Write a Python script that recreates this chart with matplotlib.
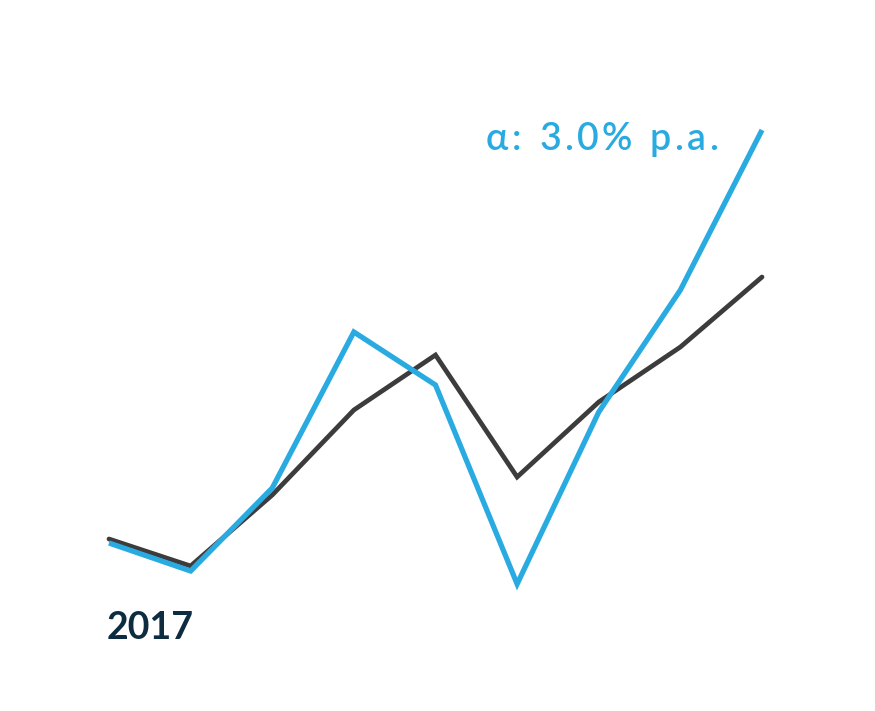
import matplotlib
matplotlib.use('Agg')
import matplotlib.pyplot as plt

# Index values
periods = list(range(9))
fund = [100.0, 97.2, 105.5, 121.1, 115.8, 95.9, 113.1, 125.3, 141.3]
benchmark = [100.4, 97.7, 104.8, 113.3, 118.8, 106.6, 114.1, 119.6, 126.6]

start_label = '2017'
alpha_label = 'α: 3.0% p.a.'

plt.rcParams['font.family'] = ['Lato', 'DejaVu Sans']

fig = plt.figure(figsize=(8.75, 7.11), dpi=100)
ax = fig.add_axes([0, 0, 1, 1])

ax.plot(periods, benchmark, color='#3c3c3c', lw=3.4, solid_joinstyle='miter', solid_capstyle='round')
ax.plot(periods, fund, color='#29abe2', lw=3.8, solid_joinstyle='miter', solid_capstyle='butt')

ax.set_xlim(-1.335, 9.384)
ax.set_ylim(83.2, 154.3)
ax.axis('off')

# alpha label with wide letter spacing, right edge at ~718 px
renderer = fig.canvas.get_renderer()
tracking = 3.3  # extra px between characters
weight = 'semibold'
widths = []
for ch in alpha_label:
    t = fig.text(0, 0, 'n' if ch == ' ' else ch, fontsize=27, fontweight=weight)
    w = t.get_window_extent(renderer).width
    if ch == ' ':
        w = w * 0.55
    widths.append(w)
    t.remove()
total = sum(widths) + tracking * (len(alpha_label) - 1)
x = 718 - total
for ch, w in zip(alpha_label, widths):
    if ch != ' ':
        fig.text(x / 875, 1 - 150 / 711, ch, ha='left', va='baseline',
                 fontsize=27, color='#29abe2', fontweight=weight)
    x += w + tracking

ax.text(0.122, 0.101, start_label, transform=ax.transAxes, ha='left', va='baseline',
        fontsize=27, color='#0d2c40', fontweight='bold')

fig.savefig('out.png', dpi=100)
